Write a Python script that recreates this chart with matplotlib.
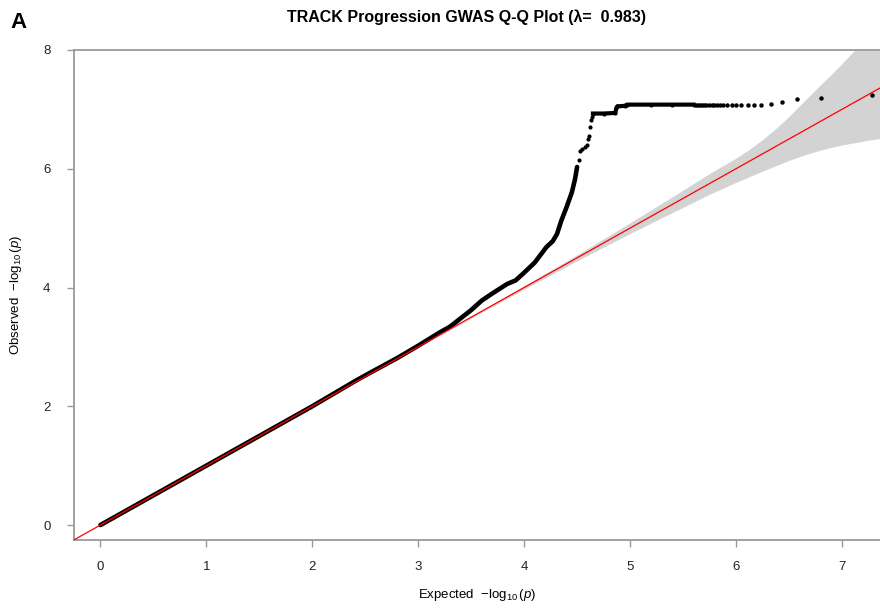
### Q-Q plot of GWAS p-values, TRACK progression

import matplotlib
matplotlib.use("Agg")
import matplotlib.pyplot as plt

plt.rcParams['font.family'] = ['Liberation Sans', 'DejaVu Sans']
plt.rcParams['mathtext.fontset'] = 'custom'
plt.rcParams['mathtext.rm'] = 'Liberation Sans'
plt.rcParams['mathtext.it'] = 'Liberation Sans:italic'

# dense body of the Q-Q curve (expected, observed)
curve_x = [0.0, 0.5, 1.0, 1.5, 2.0, 2.4, 2.5, 2.8, 3.0, 3.1, 3.2, 3.3, 3.4, 3.5,
           3.6, 3.7, 3.84, 3.92, 4.0, 4.1, 4.21, 4.27, 4.31, 4.35, 4.40, 4.45,
           4.48, 4.50]
curve_y = [0.0, 0.5, 1.0, 1.5, 2.0, 2.42, 2.52, 2.81, 3.02, 3.13, 3.24, 3.34,
           3.48, 3.62, 3.78, 3.90, 4.06, 4.12, 4.25, 4.42, 4.68, 4.78, 4.90,
           5.12, 5.35, 5.60, 5.82, 6.03]

# upper part: steps and plateau
step_x = [4.52, 4.53, 4.55, 4.57, 4.59, 4.60, 4.61, 4.62, 4.63, 4.64, 4.65,
          4.75, 4.86, 4.87, 4.88, 4.95, 4.97, 5.2, 5.4, 5.6]
step_y = [6.15, 6.30, 6.33, 6.37, 6.40, 6.50, 6.56, 6.70, 6.82, 6.88, 6.93,
          6.93, 6.94, 7.02, 7.05, 7.06, 7.08, 7.08, 7.08, 7.08]

# separate top hits
tail_x = [5.62, 5.64, 5.66, 5.68, 5.70, 5.72, 5.745, 5.77, 5.795, 5.82, 5.85,
          5.88, 5.92, 5.96, 6.00, 6.05, 6.11, 6.17, 6.24, 6.33, 6.43, 6.58,
          6.80, 7.28]
tail_y = [7.08, 7.08, 7.08, 7.08, 7.08, 7.08, 7.08, 7.08, 7.08, 7.08, 7.08,
          7.08, 7.08, 7.08, 7.08, 7.08, 7.08, 7.08, 7.08, 7.09, 7.12, 7.17,
          7.20, 7.24]

# confidence band
band_x = [0.0, 2.0, 3.0, 3.5, 4.0, 4.5, 5.0, 5.5, 5.75, 6.0, 6.125, 6.25,
          6.375, 6.5, 6.625, 6.75, 6.875, 7.0, 7.125, 7.25, 7.4]
band_lo = [0.0, 2.0, 2.99, 3.485, 3.97, 4.45, 4.91, 5.35, 5.57, 5.77, 5.865,
           5.96, 6.05, 6.14, 6.22, 6.29, 6.35, 6.40, 6.44, 6.48, 6.52]
band_hi = [0.0, 2.0, 3.01, 3.515, 4.03, 4.55, 5.09, 5.64, 5.92, 6.18, 6.325,
           6.49, 6.675, 6.88, 7.105, 7.33, 7.545, 7.77, 8.005, 8.24, 8.52]

lam = 0.983


def main():
    fig = plt.figure(figsize=(8.8, 6.08), dpi=100)
    ax = fig.add_axes([74/880, 1-540/608, 1-74/880, (540-50)/608])

    ax.fill_between(band_x, band_lo, band_hi, color='#d3d3d3', lw=0, zorder=1)
    ax.plot(curve_x, curve_y, color='black', lw=3.3, solid_capstyle='round',
            solid_joinstyle='round', zorder=2)
    ax.plot(step_x, step_y, 'o', color='black', ms=3.0, mew=0, zorder=2)
    ax.plot(step_x[10:], step_y[10:], color='black', lw=3.0, zorder=2)
    ax.plot(tail_x, tail_y, 'o', color='black', ms=3.2, mew=0, zorder=2)
    ax.axline((0, 0), slope=1, color='red', lw=0.9, zorder=3)

    ax.set_xlim(-0.25, 7.36)
    ax.set_ylim(-0.2525, 8.0)
    ax.set_xticks(range(0, 8))
    ax.set_yticks([0, 2, 4, 6, 8])

    for s in ['left', 'bottom', 'top']:
        ax.spines[s].set_color('#9a9a9a')
        ax.spines[s].set_linewidth(1.3)
    ax.spines['right'].set_visible(False)
    ax.tick_params(axis='both', direction='out', length=5, width=1.0,
                   color='#9a9a9a', labelsize=9.5, labelcolor='#222222')
    ax.tick_params(axis='x', pad=10)
    ax.tick_params(axis='y', pad=12)

    ax.set_xlabel(r'Expected  $-\log_{10}(p)$', fontsize=9.5, labelpad=10)
    ax.set_ylabel(r'Observed  $-\log_{10}(p)$', fontsize=9.5, labelpad=14)

    fig.text(466/880, 1-17/608, 'TRACK Progression GWAS Q-Q Plot (λ=  %.3f)' % lam,
             ha='center', va='center', fontsize=11.5, fontweight='bold')
    fig.text(10/880, 1-22/608, 'A', ha='left', va='center', fontsize=16,
             fontweight='bold')

    fig.savefig("out.png", dpi=100)


if __name__ == "__main__":
    main()
